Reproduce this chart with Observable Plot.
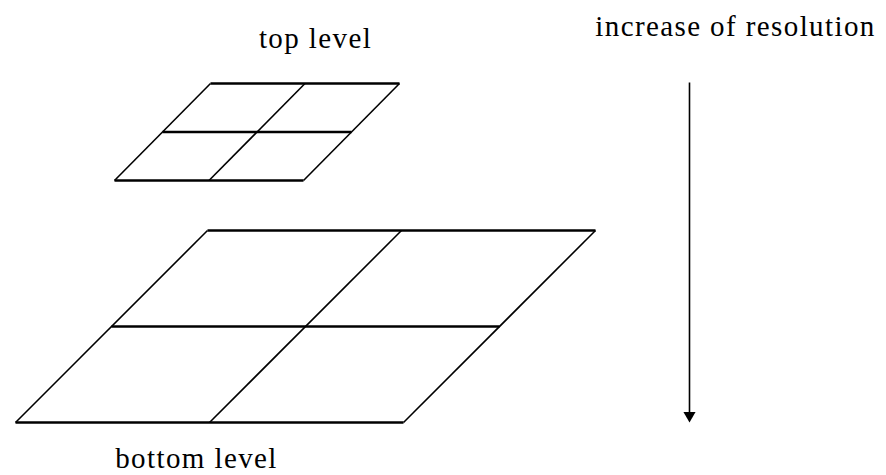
<!DOCTYPE html>
<html>
<head>
<meta charset="utf-8">
<script src="https://cdn.jsdelivr.net/npm/d3@7"></script>
<script src="https://cdn.jsdelivr.net/npm/@observablehq/plot@0.6"></script>
<style>
  html, body { margin: 0; padding: 0; background: #fff; }
  #chart svg { display: block; }
</style>
</head>
<body>
<div id="chart"></div>
<script>
// Pyramid levels (grid of cells on each level)
const levelNames = ["top level", "bottom level"];
const levelDivisions = [2, 2];          // cells per side
// Level geometry in the diagram's own coordinate space (origin = front-left corner)
const levelOriginX = [114, 15];
const levelOriginY = [180, 422];
const levelWidth = [189, 388];
const levelShear = [96, 192];
const levelDepth = [97, 192];
// Labels
const labelX = [315, 196];
const labelY = [47, 467];
const arrowLabel = "increase of resolution";
const arrowLabelPos = [735, 35];
const arrowFrom = [689, 82];
const arrowTo = [689, 417];

// build segments from grid units
const segs = [];
levelNames.forEach((name, k) => {
  const n = levelDivisions[k];
  const P = (u, v) => [levelOriginX[k] + u * levelWidth[k] + v * levelShear[k], levelOriginY[k] - v * levelDepth[k]];
  for (let i = 0; i <= n; i++) {
    const a = P(0, i / n), b = P(1, i / n);
    segs.push({x1: a[0], y1: a[1], x2: b[0], y2: b[1], kind: "h"});
    const c = P(i / n, 0), d = P(i / n, 1);
    segs.push({x1: c[0], y1: c[1], x2: d[0], y2: d[1], kind: "s"});
  }
});
const labels = levelNames.map((t, k) => ({text: t, x: labelX[k], y: labelY[k]}));
labels.push({text: arrowLabel, x: arrowLabelPos[0], y: arrowLabelPos[1]});

const font = "'Liberation Serif', serif";
const chart = Plot.plot({
  width: 886,
  height: 475,
  margin: 0,
  x: {domain: [0, 886], range: [0, 886], axis: null},
  y: {domain: [0, 475], range: [0, 475], axis: null},
  style: {background: "#fff"},
  marks: [
    Plot.link(segs.filter(d => d.kind === "h"), {x1: "x1", y1: "y1", x2: "x2", y2: "y2", stroke: "#000", strokeWidth: 2.4}),
    Plot.link(segs.filter(d => d.kind === "s"), {x1: "x1", y1: "y1", x2: "x2", y2: "y2", stroke: "#000", strokeWidth: 1.6}),
    Plot.link([{x1: arrowFrom[0], y1: arrowFrom[1], x2: arrowTo[0], y2: arrowTo[1]}], {x1: "x1", y1: "y1", x2: "x2", y2: "y2", stroke: "#000", strokeWidth: 1.6}),
    Plot.dot([{x: arrowTo[0], y: arrowTo[1] - 2}], {x: "x", y: "y", symbol: "triangle", r: 4.5, fill: "#000", stroke: "none", rotate: 180}),
    Plot.text(labels, {x: "x", y: "y", text: "text", textAnchor: "middle", lineAnchor: "bottom", fontSize: 29, fontFamily: font, fill: "#000", className: "lbl"})
  ]
});
d3.select(chart).selectAll("text").attr("letter-spacing", "1.4px");
document.getElementById("chart").append(chart);
</script>
</body>
</html>
